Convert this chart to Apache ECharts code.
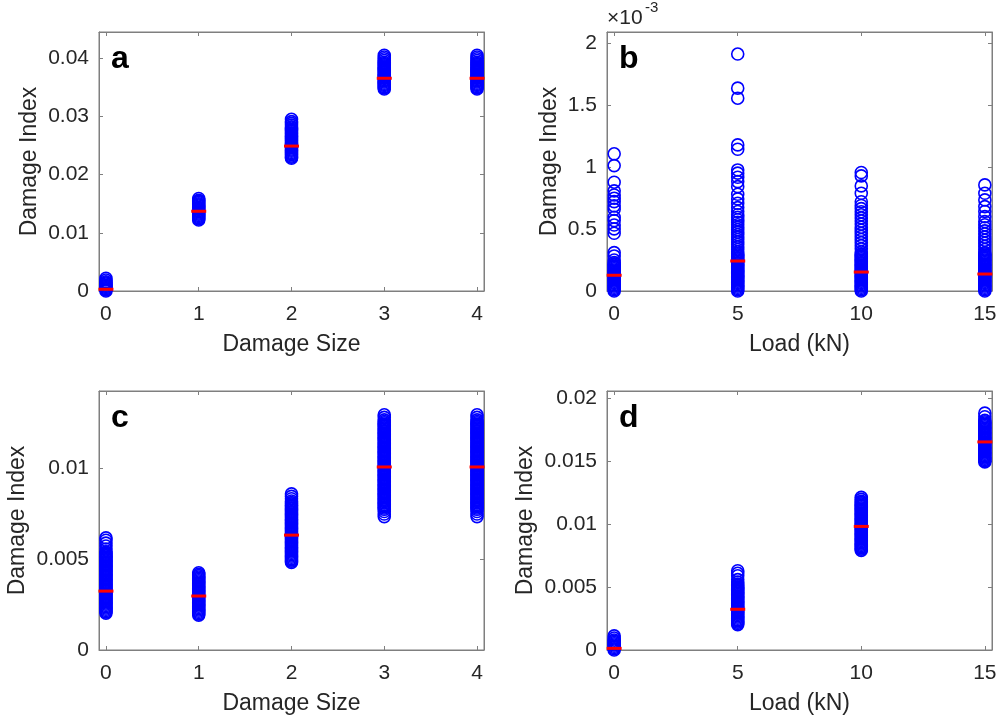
<!DOCTYPE html>
<html><head><meta charset="utf-8">
<script src="https://cdn.jsdelivr.net/npm/echarts@6/dist/echarts.min.js"></script>
<style>html,body{margin:0;padding:0;background:#fff}#c{width:1000px;height:721px}</style>
</head><body><div id="c"></div>
<script>
// ---------- Panel a: Damage Index vs Damage Size ----------
const aCats = [0, 1, 2, 3, 4];
const a0 = [0, 0.0002, 0.0004, 0.0006, 0.0008, 0.001, 0.0012, 0.0014, 0.0016, 0.0019, 0.0022];
const a1 = [0.0122, 0.0124, 0.0126, 0.0128, 0.0130, 0.0132, 0.0134, 0.0136, 0.0138, 0.0140, 0.0142, 0.0144, 0.0146, 0.0148, 0.0150, 0.0152, 0.0154, 0.0156, 0.0159];
const a2 = [0.0228, 0.0230, 0.0232, 0.0234, 0.0236, 0.0238, 0.0240, 0.0242, 0.0244, 0.0246, 0.0248, 0.0250, 0.0252, 0.0254, 0.0256, 0.0258, 0.0260, 0.0262, 0.0264, 0.0266, 0.0268, 0.0270, 0.0272, 0.0274, 0.0276, 0.0278, 0.0280, 0.0282, 0.0285, 0.0288, 0.0291, 0.0295];
const a3 = [0.0347, 0.0349, 0.0351, 0.0353, 0.0355, 0.0357, 0.0359, 0.0361, 0.0363, 0.0365, 0.0367, 0.0369, 0.0371, 0.0373, 0.0375, 0.0377, 0.0379, 0.0381, 0.0383, 0.0385, 0.0387, 0.0389, 0.0391, 0.0393, 0.0396, 0.0399, 0.0402, 0.0405];
const a4 = [0.0347, 0.0349, 0.0351, 0.0353, 0.0355, 0.0357, 0.0359, 0.0361, 0.0363, 0.0365, 0.0367, 0.0369, 0.0371, 0.0373, 0.0375, 0.0377, 0.0379, 0.0381, 0.0383, 0.0385, 0.0387, 0.0389, 0.0391, 0.0393, 0.0396, 0.0399, 0.0402, 0.0405];
const aMedian = [0.0003, 0.0137, 0.0249, 0.03655, 0.03655];
const aYTicks = [0, 0.01, 0.02, 0.03, 0.04];

// ---------- Panel b: Damage Index (x10^-3) vs Load (kN) ----------
const bCats = [0, 5, 10, 15];
const b0 = [1.107, 1.012, 0.878, 0.808, 0.775, 0.749, 0.721, 0.687, 0.66, 0.595, 0.568, 0.533, 0.501, 0.466, 0.31, 0.283, 0.25, 0.23, 0.22, 0.21, 0.2, 0.19, 0.18, 0.17, 0.16, 0.15, 0.14, 0.13, 0.12, 0.11, 0.1, 0.09, 0.08, 0.07, 0.06, 0.05, 0.04, 0.03, 0.02, 0.01, 0];
const b5 = [1.912, 1.637, 1.556, 1.179, 1.144, 0.977, 0.951, 0.918, 0.883, 0.842, 0.781, 0.743, 0.708, 0.673, 0.641, 0.615, 0.595, 0.575, 0.555, 0.535, 0.515, 0.495, 0.475, 0.455, 0.435, 0.415, 0.395, 0.375, 0.355, 0.335, 0.315, 0.3, 0.29, 0.28, 0.27, 0.26, 0.25, 0.24, 0.23, 0.22, 0.21, 0.2, 0.19, 0.18, 0.17, 0.16, 0.15, 0.14, 0.13, 0.12, 0.11, 0.1, 0.09, 0.08, 0.07, 0.06, 0.05, 0.04, 0.03, 0.02, 0.01, 0];
const b10 = [0.956, 0.929, 0.848, 0.789, 0.72, 0.69, 0.665, 0.64, 0.615, 0.59, 0.565, 0.54, 0.515, 0.49, 0.465, 0.44, 0.415, 0.39, 0.365, 0.34, 0.315, 0.3, 0.29, 0.28, 0.27, 0.26, 0.25, 0.24, 0.23, 0.22, 0.21, 0.2, 0.19, 0.18, 0.17, 0.16, 0.15, 0.14, 0.13, 0.12, 0.11, 0.1, 0.09, 0.08, 0.07, 0.06, 0.05, 0.04, 0.03, 0.02, 0.01, 0];
const b15 = [0.856, 0.789, 0.735, 0.681, 0.641, 0.6, 0.56, 0.535, 0.51, 0.485, 0.46, 0.435, 0.41, 0.385, 0.36, 0.335, 0.31, 0.3, 0.29, 0.28, 0.27, 0.26, 0.25, 0.24, 0.23, 0.22, 0.21, 0.2, 0.19, 0.18, 0.17, 0.16, 0.15, 0.14, 0.13, 0.12, 0.11, 0.1, 0.09, 0.08, 0.07, 0.06, 0.05, 0.04, 0.03, 0.02, 0.01, 0];
const bMedian = [0.127, 0.242, 0.153, 0.137];
const bYTicks = [0, 0.5, 1, 1.5, 2];

// ---------- Panel c: Damage Index vs Damage Size ----------
const cCats = [0, 1, 2, 3, 4];
const c0 = [0.00203, 0.0021, 0.00217, 0.00224, 0.00231, 0.00238, 0.00245, 0.00252, 0.00259, 0.00266, 0.00273, 0.0028, 0.00287, 0.00294, 0.00301, 0.00308, 0.00315, 0.00322, 0.00329, 0.00336, 0.00343, 0.0035, 0.00357, 0.00364, 0.00371, 0.00378, 0.00385, 0.00392, 0.00399, 0.00406, 0.00413, 0.0042, 0.00427, 0.00434, 0.00441, 0.00448, 0.00455, 0.00462, 0.00469, 0.00476, 0.00483, 0.0049, 0.00497, 0.00504, 0.00511, 0.00518, 0.00525, 0.00532, 0.0054, 0.00556, 0.00572, 0.00588, 0.00604, 0.00617];
const c1 = [0.00192, 0.00199, 0.00206, 0.00213, 0.0022, 0.00227, 0.00234, 0.00241, 0.00248, 0.00255, 0.00262, 0.00269, 0.00276, 0.00283, 0.0029, 0.00297, 0.00304, 0.00311, 0.00318, 0.00325, 0.00332, 0.00339, 0.00346, 0.00353, 0.0036, 0.00367, 0.00374, 0.00381, 0.00388, 0.00395, 0.00402, 0.00409, 0.00417, 0.00425];
const c2 = [0.00482, 0.00489, 0.00496, 0.00503, 0.0051, 0.00517, 0.00524, 0.00531, 0.00538, 0.00545, 0.00552, 0.00559, 0.00566, 0.00573, 0.0058, 0.00587, 0.00594, 0.00601, 0.00608, 0.00615, 0.00622, 0.00629, 0.00636, 0.00643, 0.0065, 0.00657, 0.00664, 0.00671, 0.00678, 0.00685, 0.00692, 0.00699, 0.00706, 0.00713, 0.0072, 0.00727, 0.00734, 0.00741, 0.00748, 0.00755, 0.00762, 0.00769, 0.00776, 0.00783, 0.0079, 0.00797, 0.00804, 0.00811, 0.0082, 0.00832, 0.00845, 0.00859];
const c3 = [0.00734, 0.00748, 0.00762, 0.00774, 0.00781, 0.00788, 0.00795, 0.00802, 0.00809, 0.00816, 0.00823, 0.0083, 0.00837, 0.00844, 0.00851, 0.00858, 0.00865, 0.00872, 0.00879, 0.00886, 0.00893, 0.009, 0.00907, 0.00914, 0.00921, 0.00928, 0.00935, 0.00942, 0.00949, 0.00956, 0.00963, 0.0097, 0.00977, 0.00984, 0.00991, 0.00998, 0.01005, 0.01012, 0.01019, 0.01026, 0.01033, 0.0104, 0.01047, 0.01054, 0.01061, 0.01068, 0.01075, 0.01082, 0.01089, 0.01096, 0.01103, 0.0111, 0.01117, 0.01124, 0.01131, 0.01138, 0.01145, 0.01152, 0.01159, 0.01166, 0.01173, 0.0118, 0.01187, 0.01194, 0.01201, 0.01208, 0.01215, 0.01222, 0.01229, 0.01236, 0.01243, 0.0125, 0.01257, 0.01266, 0.0128, 0.01294];
const c4 = [0.00734, 0.00748, 0.00762, 0.00774, 0.00781, 0.00788, 0.00795, 0.00802, 0.00809, 0.00816, 0.00823, 0.0083, 0.00837, 0.00844, 0.00851, 0.00858, 0.00865, 0.00872, 0.00879, 0.00886, 0.00893, 0.009, 0.00907, 0.00914, 0.00921, 0.00928, 0.00935, 0.00942, 0.00949, 0.00956, 0.00963, 0.0097, 0.00977, 0.00984, 0.00991, 0.00998, 0.01005, 0.01012, 0.01019, 0.01026, 0.01033, 0.0104, 0.01047, 0.01054, 0.01061, 0.01068, 0.01075, 0.01082, 0.01089, 0.01096, 0.01103, 0.0111, 0.01117, 0.01124, 0.01131, 0.01138, 0.01145, 0.01152, 0.01159, 0.01166, 0.01173, 0.0118, 0.01187, 0.01194, 0.01201, 0.01208, 0.01215, 0.01222, 0.01229, 0.01236, 0.01243, 0.0125, 0.01257, 0.01266, 0.0128, 0.01294];
const cMedian = [0.00324, 0.00297, 0.00632, 0.01007, 0.01007];
const cYTicks = [0, 0.005, 0.01];

// ---------- Panel d: Damage Index vs Load (kN) ----------
const dCats = [0, 5, 10, 15];
const d0 = [0, 0.0001, 0.0002, 0.0003, 0.0004, 0.0005, 0.0006, 0.0007, 0.0008, 0.00095, 0.00112];
const d5 = [0.00202, 0.00212, 0.00222, 0.00232, 0.00242, 0.00252, 0.00262, 0.00272, 0.00282, 0.00292, 0.00302, 0.00312, 0.00322, 0.00332, 0.00342, 0.00352, 0.00362, 0.00372, 0.00382, 0.00392, 0.00402, 0.00412, 0.00422, 0.00432, 0.00442, 0.00452, 0.00462, 0.00472, 0.00482, 0.00492, 0.00502, 0.00512, 0.00522, 0.0054, 0.0056, 0.0059, 0.0061, 0.0063];
const d10 = [0.00792, 0.00802, 0.00812, 0.00822, 0.00832, 0.00842, 0.00852, 0.00862, 0.00872, 0.00882, 0.00892, 0.00902, 0.00912, 0.00922, 0.00932, 0.00942, 0.00952, 0.00962, 0.00972, 0.00982, 0.00992, 0.01002, 0.01012, 0.01022, 0.01032, 0.01042, 0.01052, 0.01062, 0.01072, 0.01082, 0.01092, 0.01102, 0.01112, 0.01122, 0.01132, 0.01142, 0.01152, 0.01162, 0.01172, 0.01182, 0.01198, 0.01214];
const d15 = [0.01496, 0.01506, 0.01516, 0.01526, 0.01536, 0.01546, 0.01556, 0.01566, 0.01576, 0.01586, 0.01596, 0.01606, 0.01616, 0.01626, 0.01636, 0.01646, 0.01656, 0.01666, 0.01676, 0.01686, 0.01696, 0.01706, 0.01716, 0.01726, 0.01736, 0.01746, 0.01756, 0.01766, 0.01776, 0.01786, 0.01796, 0.01806, 0.01816, 0.01826, 0.01855, 0.01884];
const dMedian = [0.00013, 0.00324, 0.00983, 0.01655];
const dYTicks = [0, 0.005, 0.01, 0.015, 0.02];

// ---------- Rendering ----------
const FONT = '"Liberation Sans", Arial, Helvetica, sans-serif';
const AXC = '#7f7f7f', TXT = '#262626';

const panels = [
  { grid: {left: 99, top: 32, width: 385, height: 259}, cats: aCats, groups: [a0, a1, a2, a3, a4], med: aMedian,
    xMin: -0.075, xMax: 4.075, yMax: 0.0445, yTicks: aYTicks, xName: 'Damage Size', yGap: 58, letter: 'a' },
  { grid: {left: 607, top: 32, width: 385, height: 259}, cats: bCats, groups: [b0, b5, b10, b15], med: bMedian,
    xMin: -0.29, xMax: 15.29, yMax: 2.09, yTicks: bYTicks, xName: 'Load (kN)', yGap: 46, letter: 'b' },
  { grid: {left: 99, top: 391, width: 385, height: 259}, cats: cCats, groups: [c0, c1, c2, c3, c4], med: cMedian,
    xMin: -0.075, xMax: 4.075, yMax: 0.01425, yTicks: cYTicks, xName: 'Damage Size', yGap: 70, letter: 'c' },
  { grid: {left: 607, top: 391, width: 385, height: 259}, cats: dCats, groups: [d0, d5, d10, d15], med: dMedian,
    xMin: -0.29, xMax: 15.29, yMax: 0.0206, yTicks: dYTicks, xName: 'Load (kN)', yGap: 70, letter: 'd' }
];

const option = { animation: false, backgroundColor: '#fff', grid: [], xAxis: [], yAxis: [], series: [], graphic: [] };

function fmt(v) { return String(+v.toFixed(4)); }

panels.forEach((p, i) => {
  option.grid.push(Object.assign({ show: true, borderColor: AXC, borderWidth: 1, containLabel: false }, p.grid));
  const tick = { show: true, inside: true, length: 4, lineStyle: { color: AXC, width: 1 } };
  option.xAxis.push({
    type: 'value', gridIndex: i, position: 'bottom', min: p.xMin, max: p.xMax,
    axisLine: { show: true, onZero: false, lineStyle: { color: AXC, width: 1 } },
    axisTick: Object.assign({ customValues: p.cats }, tick),
    axisLabel: { customValues: p.cats, formatter: fmt, margin: 13, fontSize: 21, color: TXT, fontFamily: FONT },
    splitLine: { show: false },
    name: p.xName, nameLocation: 'middle', nameGap: 42,
    nameTextStyle: { fontSize: 23, color: TXT, fontFamily: FONT }
  });
  option.xAxis.push({
    type: 'value', gridIndex: i, position: 'top', min: p.xMin, max: p.xMax,
    axisLine: { show: true, onZero: false, lineStyle: { color: AXC, width: 1 } },
    axisTick: Object.assign({ customValues: p.cats }, tick),
    axisLabel: { show: false }, splitLine: { show: false }
  });
  option.yAxis.push({
    type: 'value', gridIndex: i, position: 'left', min: 0, max: p.yMax,
    axisLine: { show: true, onZero: false, lineStyle: { color: AXC, width: 1 } },
    axisTick: Object.assign({ customValues: p.yTicks }, tick),
    axisLabel: { customValues: p.yTicks, formatter: fmt, margin: 10, fontSize: 21, color: TXT, fontFamily: FONT },
    splitLine: { show: false },
    name: 'Damage Index', nameLocation: 'middle', nameGap: p.yGap,
    nameTextStyle: { fontSize: 23, color: TXT, fontFamily: FONT }
  });
  option.yAxis.push({
    type: 'value', gridIndex: i, position: 'right', min: 0, max: p.yMax,
    axisLine: { show: true, onZero: false, lineStyle: { color: AXC, width: 1 } },
    axisTick: Object.assign({ customValues: p.yTicks }, tick),
    axisLabel: { show: false }, splitLine: { show: false }
  });

  const pts = [];
  p.groups.forEach((g, k) => g.forEach(v => pts.push([p.cats[k], v])));
  option.series.push({
    type: 'scatter', xAxisIndex: 2 * i, yAxisIndex: 2 * i, data: pts, clip: false,
    symbol: 'circle', symbolSize: 12, silent: true,
    itemStyle: { color: 'rgba(0,0,0,0)', borderColor: '#0000ff', borderWidth: 1.6, opacity: 1 },
    z: 3
  });
  option.series.push({
    type: 'scatter', xAxisIndex: 2 * i, yAxisIndex: 2 * i, clip: false, silent: true,
    data: p.cats.map((c, k) => [c, p.med[k]]),
    symbol: 'rect', symbolSize: [15, 3],
    itemStyle: { color: '#ff0000', opacity: 1 }, z: 4
  });

  option.graphic.push({
    type: 'text', left: p.grid.left + 12, top: p.grid.top + 11, z: 10,
    style: { text: p.letter, font: 'bold 32px ' + FONT, fill: '#000' }
  });
});

option.graphic.push({ type: 'text', left: 607, top: 8, z: 10,
  style: { text: '\u00d710', font: '21px ' + FONT, fill: TXT } });
option.graphic.push({ type: 'text', left: 645, top: 0, z: 10,
  style: { text: '-3', font: '15px ' + FONT, fill: TXT } });

const chart = echarts.init(document.getElementById('c'), null, { renderer: 'canvas' });
chart.setOption(option);
</script>
</body></html>
